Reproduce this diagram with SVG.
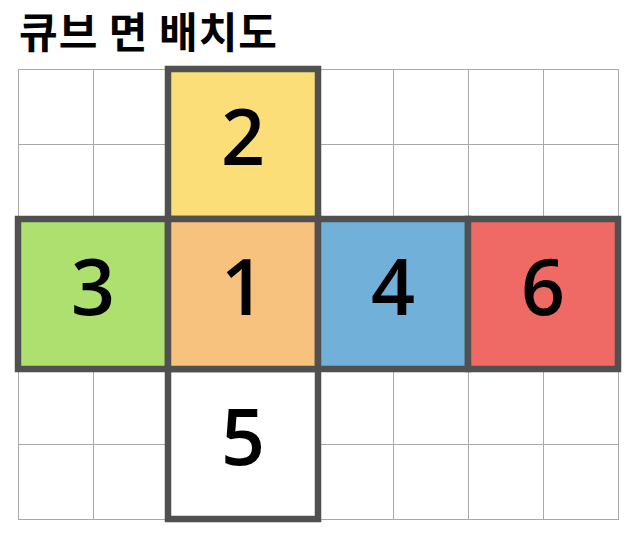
<svg xmlns="http://www.w3.org/2000/svg" width="640" height="536" viewBox="0 0 640 536">
<style>
.grid{stroke:#aaaaaa;stroke-width:1;fill:none}
.face{stroke:#505050;stroke-width:6.5}
.num{font-family:"Open Sans","Noto Sans",sans-serif;font-weight:600;font-size:77px;text-anchor:middle;fill:#000}
.title{font-family:"Noto Sans CJK KR","Noto Sans",sans-serif;font-weight:700;font-size:42px;letter-spacing:1px;fill:#000}
</style>
<rect width="640" height="536" fill="#fff"/>
<text class="title" x="19" y="48">큐브 면 배치도</text>
<g id="grid" class="grid">
<rect x="18.5" y="69.5" width="600" height="450"/>
<path d="M93.5 69.5V519.5M168.5 69.5V519.5M243.5 69.5V519.5M318.5 69.5V519.5M393.5 69.5V519.5M468.5 69.5V519.5M543.5 69.5V519.5M18.5 144.5H618.5M18.5 219.5H618.5M18.5 294.5H618.5M18.5 369.5H618.5M18.5 444.5H618.5"/>
</g>
<g id="face2"><rect class="face" x="168" y="69" width="150" height="150" fill="#FBDE78"/><text class="num" x="243" y="165">2</text></g>
<g id="face5"><rect class="face" x="168" y="369" width="150" height="150" fill="#ffffff"/><text class="num" x="243" y="465">5</text></g>
<g id="face3"><rect class="face" x="18" y="219" width="150" height="150" fill="#AEE070"/><text class="num" x="93" y="315">3</text></g>
<g id="face1"><rect class="face" x="168" y="219" width="150" height="150" fill="#F7C17E"/><text class="num" x="243" y="315">1</text></g>
<g id="face4"><rect class="face" x="318" y="219" width="150" height="150" fill="#71B0D9"/><text class="num" x="393" y="315">4</text></g>
<g id="face6"><rect class="face" x="468" y="219" width="150" height="150" fill="#EF6A65"/><text class="num" x="543" y="315">6</text></g>
</svg>
